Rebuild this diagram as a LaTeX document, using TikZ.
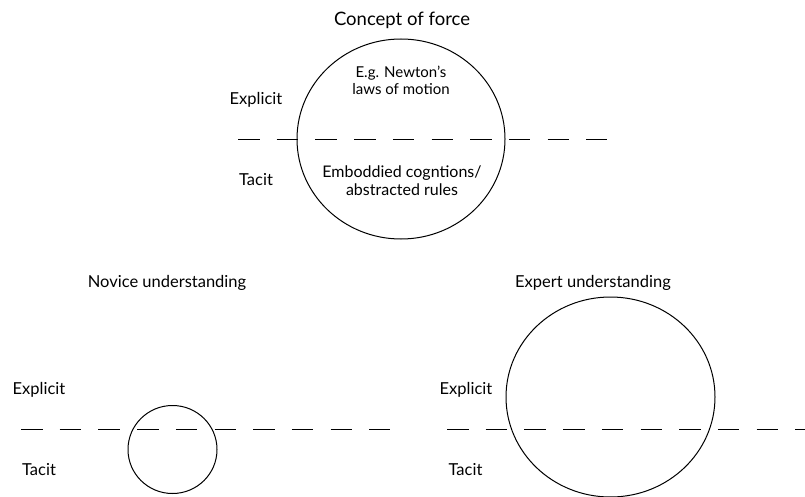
\documentclass[tikz,border=0pt]{standalone}
\usepackage{fontspec}
\setmainfont{Lato}
\usetikzlibrary{shapes.geometric}
\begin{document}
\begin{tikzpicture}[x=1pt,y=-1pt,
  lbl/.style={font=\fontsize{16.5}{18}\selectfont, inner sep=0pt, align=center},
  inlbl/.style={inner sep=0pt, align=center},
  ring/.style={draw, ellipse, line width=1pt, inner sep=0pt},
  divider/.style={line width=0.9pt, dash pattern=on 21.5pt off 17.2pt}]
\useasboundingbox (0,0) rectangle (805,497);
\clip (0,0) rectangle (805,497);
% top
\node[lbl, font=\fontsize{18.5}{20}\selectfont] (title) at (402,20) {Concept of force};
\node[ring, minimum width=208pt, minimum height=200pt] (force) at (401,139) {};
\node[inlbl, font=\fontsize{15}{17}\selectfont] (newton) at (401,80) {E.g. Newton's\\laws of motion};
\node[inlbl, font=\fontsize{16}{18}\selectfont] (embod) at (402,181) {Emboddied cogntions/\\abstracted rules};
\node[lbl] (exp1) at (256,100) {Explicit};
\node[lbl] (tac1) at (256,180) {Tacit};
\coordinate (d1a) at (238,139);
\coordinate (d1b) at (607,139);
\draw[divider] (d1a) -- (d1b);
% novice
\node[lbl] (novice) at (167,283) {Novice understanding};
\node[ring, minimum width=89pt, minimum height=88pt] (nov) at (172.5,449.5) {};
\node[lbl] (exp2) at (39,390) {Explicit};
\node[lbl] (tac2) at (39,470) {Tacit};
\coordinate (d2a) at (21,429);
\coordinate (d2b) at (390,429);
\draw[divider] (d2a) -- (d2b);
% expert
\node[lbl] (expert) at (593,283) {Expert understanding};
\node[ring, minimum width=209pt, minimum height=200pt] (exp) at (610.5,397) {};
\node[lbl] (exp3) at (466,390) {Explicit};
\node[lbl] (tac3) at (465.5,470) {Tacit};
\coordinate (d3a) at (447,429);
\coordinate (d3b) at (810,429);
\draw[divider] (d3a) -- (d3b);
\end{tikzpicture}
\end{document}
